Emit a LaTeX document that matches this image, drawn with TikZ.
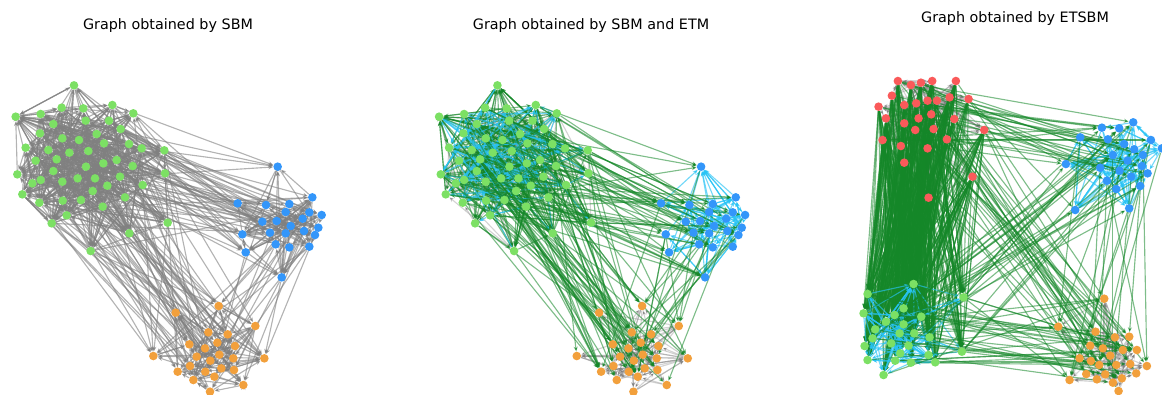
\documentclass[tikz,border=0pt]{standalone}
\usepackage{fontspec}
\setmainfont{DejaVu Sans}
\usetikzlibrary{arrows.meta,backgrounds}

\definecolor{dotgreen}{RGB}{124,224,100}
\definecolor{dotblue}{RGB}{51,150,250}
\definecolor{dotorange}{RGB}{242,160,60}
\definecolor{dotred}{RGB}{250,90,90}
\definecolor{linkgreen}{RGB}{20,135,40}
\definecolor{linkcyan}{RGB}{40,195,245}
\definecolor{linkgray}{RGB}{128,128,128}

% random links between two groups of named nodes
\newcommand{\randlinks}[6]{%
	\foreach \k in {1,...,#1}{%
		\pgfmathrandominteger{\ea}{1}{#3}%
		\pgfmathrandominteger{\eb}{1}{#5}%
		\ifnum\ea=\eb\relax\ifx#2#4\else\draw[#6] (#2\ea) -- (#4\eb);\fi
		\else\draw[#6] (#2\ea) -- (#4\eb);\fi
	}}

\begin{document}
\begin{tikzpicture}[x=0.025cm,y=-0.025cm,
	dot/.style={circle,inner sep=0pt,minimum size=0.215cm},
	green_dot/.style={dot,fill=dotgreen},
	blue_dot/.style={dot,fill=dotblue},
	orange_dot/.style={dot,fill=dotorange},
	red_dot/.style={dot,fill=dotred},
	link/.style={line width=0.8pt,-{Stealth[length=3.5pt,width=3pt]}},
	gray_link/.style={link,draw=linkgray,draw opacity=0.6},
	pale_link/.style={link,draw=linkgray,draw opacity=0.35},
	green_link/.style={link,draw=linkgreen,draw opacity=0.55},
	cyan_link/.style={link,draw=linkcyan,draw opacity=0.65},
	title/.style={font=\fontsize{10.2}{12}\selectfont}]

	\useasboundingbox (0,0) rectangle (1162,394);

	\node[title] (t1) at (168,26) {Graph obtained by SBM};
	\node[title] (t2) at (591,26) {Graph obtained by SBM and ETM};
	\node[title] (t3) at (1015,19) {Graph obtained by ETSBM};

	% panel 1 and panel 2 share one layout
	\foreach \p/\dx in {a/0,b/10.583}{
	\begin{scope}[xshift=\dx cm,yshift=-1.5cm,x=0.008333cm,y=-0.008333cm]
		\foreach \x/\y [count=\i] in {222/76,47/170,122/162,185/143,250/145,337/135,400/160,160/192,257/182,327/182,362/207,120/220,187/235,237/240,290/222,312/250,387/252,425/265,493/271,77/263,145/270,208/278,265/273,107/302,170/298,310/310,350/300,398/318,258/320,160/333,52/343,97/370,122/360,187/365,233/355,285/355,360/350,495/340,428/375,67/403,118/428,188/422,243/420,278/393,322/377,375/412,308/440,200/466,155/490,388/520,503/488,272/573}
			\node[green_dot] (\p g\i) at (\x,\y) {};
		\foreach \x/\y [count=\i] in {833/320,937/412,713/430,798/435,868/432,857/456,928/457,965/465,787/485,830/483,872/498,908/476,955/503,810/518,857/520,912/513,945/525,727/523,827/553,868/562,928/560,737/577,845/652}
			\node[blue_dot] (\p b\i) at (\x,\y) {};
		\foreach \x/\y [count=\i] in {656/738,527/758,766/798,625/817,683/823,568/853,652/848,705/858,615/865,590/890,658/884,700/895,793/895,460/888,631/902,570/918,664/925,702/930,533/935,616/935,643/950,580/960,730/975,630/995}
			\node[orange_dot] (\p o\i) at (\x,\y) {};
	\end{scope}
	}

	% panel 3
	\begin{scope}[xshift=21cm,yshift=-1.5cm,x=0.008333cm,y=-0.008333cm]
		\foreach \x/\y [count=\i] in {173/63,212/75,242/68,276/63,347/63,155/107,192/135,228/130,262/122,290/122,328/112,385/117,115/140,137/175,192/190,235/175,273/163,342/177,225/210,280/207,432/210,127/240,182/258,262/265,320/238,192/308,397/350,265/413}
			\node[red_dot] (cr\i) at (\x,\y) {};
		\foreach \x/\y [count=\i] in {785/203,837/205,879/187,720/232,803/238,932/240,852/252,882/268,965/265,908/285,818/285,677/312,780/323,862/302,905/318,838/332,922/340,800/362,873/350,828/387,900/378,705/450,867/445}
			\node[blue_dot] (cb\i) at (\x,\y) {};
		\foreach \x/\y [count=\i] in {220/672,82/702,370/712,70/760,190/745,163/765,243/770,105/808,137/785,190/793,97/835,178/820,222/820,268/832,73/858,153/850,205/857,180/880,265/885,365/875,82/900,165/902,212/908,285/907,130/945}
			\node[green_dot] (cg\i) at (\x,\y) {};
		\foreach \x/\y [count=\i] in {792/716,654/800,766/815,824/832,867/830,750/857,788/865,848/870,890/870,810/887,718/895,752/903,777/915,828/915,870/912,920/918,738/942,795/943,888/940,770/958,818/968,845/955,688/960,835/993}
			\node[orange_dot] (co\i) at (\x,\y) {};
	\end{scope}

	\begin{pgfonlayer}{background}
		\pgfmathsetseed{11}
		% panel 1
		\randlinks{550}{ag}{52}{ag}{52}{gray_link}
		\randlinks{100}{ab}{23}{ab}{23}{gray_link}
		\randlinks{100}{ao}{24}{ao}{24}{gray_link}
		\randlinks{55}{ag}{52}{ab}{23}{gray_link}
		\randlinks{60}{ag}{52}{ao}{24}{gray_link}
		\randlinks{18}{ab}{23}{ao}{24}{gray_link}
		% panel 2
		\randlinks{120}{bg}{52}{bg}{52}{pale_link}
		\randlinks{100}{bo}{24}{bo}{24}{pale_link}
		\randlinks{320}{bg}{52}{bg}{52}{green_link}
		\randlinks{100}{bg}{52}{bg}{52}{cyan_link}
		\randlinks{110}{bb}{23}{bb}{23}{cyan_link}
		\randlinks{55}{bg}{52}{bb}{23}{green_link}
		\randlinks{60}{bg}{52}{bo}{24}{green_link}
		\randlinks{18}{bb}{23}{bo}{24}{green_link}
		% panel 3
		\randlinks{170}{cr}{28}{cr}{28}{pale_link}
		\randlinks{100}{co}{24}{co}{24}{pale_link}
		\randlinks{550}{cr}{28}{cg}{25}{green_link}
		\randlinks{100}{cg}{25}{cg}{25}{cyan_link}
		\randlinks{100}{cb}{23}{cb}{23}{cyan_link}
		\randlinks{30}{cr}{28}{cb}{23}{green_link}
		\randlinks{30}{cr}{28}{co}{24}{green_link}
		\randlinks{35}{cg}{25}{co}{24}{green_link}
		\randlinks{25}{cg}{25}{cb}{23}{green_link}
		\randlinks{15}{cb}{23}{co}{24}{green_link}
	\end{pgfonlayer}
\end{tikzpicture}
\end{document}
